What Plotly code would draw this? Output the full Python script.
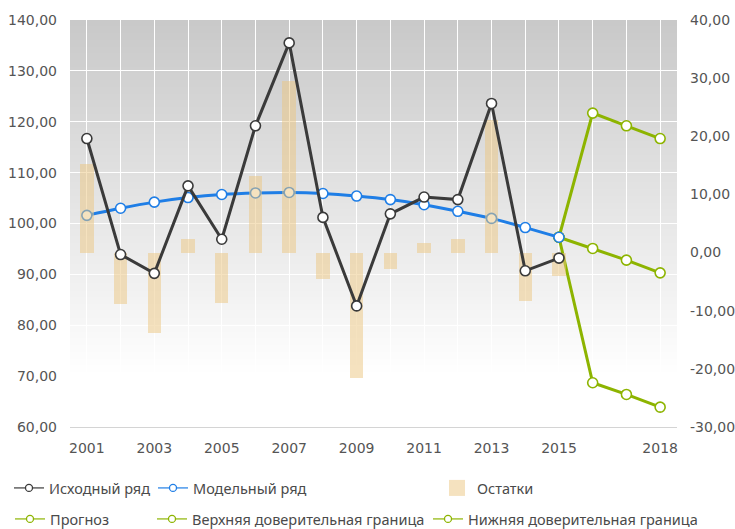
import plotly.graph_objects as go

# ---------------- data ----------------
years = list(range(2001, 2016))
forecast_years = [2015, 2016, 2017, 2018]

original = [116.7, 93.9, 90.2, 107.4, 96.9, 119.2, 135.5, 101.2, 83.8, 101.9,
            105.2, 104.7, 123.6, 90.7, 93.2]
model = [101.6, 103.0, 104.2, 105.1, 105.7, 106.0, 106.1, 105.9, 105.4, 104.7,
         103.7, 102.4, 101.0, 99.2, 97.3]
residuals = [15.3, -8.9, -13.9, 2.3, -8.7, 13.2, 29.5, -4.6, -21.5, -2.9,
             1.6, 2.3, 22.8, -8.4, -4.0]

forecast = [97.3, 95.1, 92.8, 90.3]
upper_bound = [97.3, 121.7, 119.2, 116.7]
lower_bound = [97.3, 68.7, 66.4, 63.9]

x_tick_vals = [2001, 2003, 2005, 2007, 2009, 2011, 2013, 2015, 2018]
x_tick_text = ["2001", "2003", "2005", "2007", "2009", "2011", "2013", "2015", "2018"]
y_tick_vals = [60, 70, 80, 90, 100, 110, 120, 130, 140]
y2_tick_vals = [-30, -20, -10, 0, 10, 20, 30, 40]
y2_tick_text = ["-30,00", "-20,00", "-10,00", "0,00", "10,00", "20,00", "30,00", "40,00"]

names = ["Исходный ряд", "Модельный ряд", "Остатки", "Прогноз",
         "Верхняя доверительная граница", "Нижняя доверительная граница"]

# ---------------- style ----------------
C_BLACK = "#3a3a3a"
C_BLUE = "#1f7ee6"
C_GREEN = "#8db400"
C_BAR = "rgba(236,198,128,0.5)"
TICK_FONT = dict(family="DejaVu Sans", size=14, color="#555555")
LEG_FONT = dict(family="Noto Sans", size=14.5, color="#4a4a4a")

fig = go.Figure()


def line_trace(x, y, color, name, axis="y"):
    return go.Scatter(x=x, y=y, mode="lines+markers", name=name, showlegend=False, yaxis=axis,
                      line=dict(color=color, width=3),
                      marker=dict(size=10, color="white", line=dict(color=color, width=1.6)))


# forecast + model on main axis (drawn below the bars)
fig.add_trace(line_trace(forecast_years, upper_bound, C_GREEN, names[4]))
fig.add_trace(line_trace(forecast_years, lower_bound, C_GREEN, names[5]))
fig.add_trace(line_trace(forecast_years, forecast, C_GREEN, names[3]))
blue = line_trace(years, model, C_BLUE, names[1])
blue.line.shape = "spline"
fig.add_trace(blue)

# residual bars (right axis, overlay above model line)
fig.add_trace(go.Bar(x=years, y=residuals, base=0, yaxis="y2", width=0.4,
                     marker=dict(color=C_BAR, line=dict(width=0)),
                     name=names[2], showlegend=False))

# original series on a hidden overlay axis identical to the left one (drawn on top)
fig.add_trace(line_trace(years, original, C_BLACK, names[0], axis="y3"))

# legend-only entries, one legend each (x of legend box, y of row centre, in px)
legend_specs = [
    (names[0], C_BLACK, "line", 9, 488),
    (names[1], C_BLUE, "line", 153, 488),
    (names[2], C_BAR, "box", 437, 488),
    (names[3], C_GREEN, "line", 10, 519),
    (names[4], C_GREEN, "line", 152, 519),
    (names[5], C_GREEN, "line", 428, 519),
]
W, H = 735, 529
legend_layouts = {}
for i, (nm, col, kind, lx, ly) in enumerate(legend_specs):
    lid = "legend" if i == 0 else f"legend{i + 1}"
    if kind == "line":
        tr = go.Scatter(x=[2001], y=[None], mode="lines+markers", name=nm, legend=lid,
                        line=dict(color=col, width=1.2),
                        marker=dict(size=7, color="white", line=dict(color=col, width=1.3)))
    else:
        tr = go.Scatter(x=[2001], y=[None], mode="markers", name=nm, legend=lid,
                        marker=dict(symbol="square", size=16, color=col, line=dict(width=0)))
    fig.add_trace(tr)
    legend_layouts[lid] = dict(x=lx / W, y=1 - ly / H, xref="container", yref="container",
                               xanchor="left", yanchor="middle", bgcolor="rgba(0,0,0,0)",
                               borderwidth=0, font=LEG_FONT)

# gradient plot background
shapes = []
N = 60
for k in range(N):
    f_down = (k + 0.5) / N
    g = int(min(255, 201 + 62 * f_down))
    shapes.append(dict(type="rect", xref="x domain", yref="y domain",
                       x0=0, x1=1, y0=1 - (k + 1) / N, y1=min(1, 1 - k / N + 0.002),
                       fillcolor=f"rgb({g},{g},{g})", line=dict(width=0), layer="below"))

fig.update_layout(
    width=W, height=H,
    margin=dict(l=70, r=58, t=20, b=102, autoexpand=False),
    paper_bgcolor="white", plot_bgcolor="white",
    separators=", ",
    bargap=0,
    hovermode=False,
    shapes=shapes,
    xaxis=dict(type="linear", range=[2000.5, 2018.5], tickvals=x_tick_vals, ticktext=x_tick_text,
               showgrid=True, gridcolor="white", gridwidth=1,
               minor=dict(dtick=1, tick0=2001, showgrid=True, gridcolor="white", gridwidth=1),
               showline=True, linecolor="#d4d4d4", linewidth=1,
               zeroline=False, ticks="", ticklabelstandoff=8, tickfont=TICK_FONT),
    yaxis=dict(type="linear", range=[60, 140], tickvals=y_tick_vals, tickformat=".2f",
               showgrid=True, gridcolor="white", gridwidth=1, zeroline=False,
               ticks="", ticklabelstandoff=12, tickfont=TICK_FONT),
    yaxis2=dict(type="linear", range=[-30, 40], tickvals=y2_tick_vals, ticktext=y2_tick_text,
                overlaying="y", side="right", showgrid=False, zeroline=False,
                ticks="", ticklabelstandoff=12, tickfont=TICK_FONT),
    yaxis3=dict(type="linear", range=[60, 140], overlaying="y", side="left", visible=False,
                showgrid=False, zeroline=False),
    **legend_layouts,
)

fig.write_html("out.html", config={"displayModeBar": False},
               post_script="document.body.style.margin='0';document.body.style.padding='0';")
